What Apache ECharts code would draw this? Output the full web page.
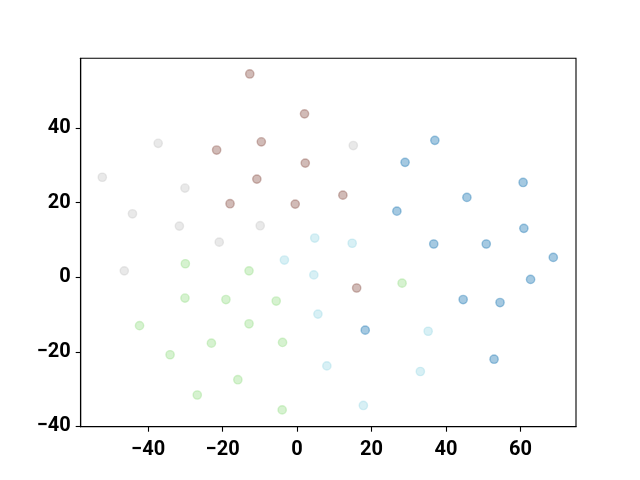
<!DOCTYPE html>
<html>
<head>
<meta charset="utf-8">
<script src="https://cdn.jsdelivr.net/npm/echarts@6/dist/echarts.min.js"></script>
<style>html,body{margin:0;padding:0;background:#fff;}#c{width:640px;height:480px;}</style>
</head>
<body>
<div id="c"></div>
<script>
const xTicks = [-40, -20, 0, 20, 40, 60];
const yTicks = [-40, -20, 0, 20, 40];

const blueX = [37.0, 29.0, 60.7, 45.6, 26.8, 60.9, 36.7, 50.8, 68.8, 62.7, 44.6, 54.5, 18.3, 52.9];
const blueY = [36.7, 30.8, 25.4, 21.4, 17.7, 13.1, 8.9, 8.9, 5.3, -0.6, -6.0, -6.8, -14.2, -22.0];

const brownX = [-12.7, 2.0, -9.6, -21.6, 2.2, -10.8, 12.3, -18.0, -0.5, 16.0];
const brownY = [54.5, 43.8, 36.3, 34.1, 30.6, 26.3, 22.0, 19.7, 19.6, -2.9];

const grayX = [-37.3, -52.3, -30.1, -44.2, -31.6, -9.9, -20.9, -46.4, 15.1];
const grayY = [35.9, 26.8, 23.9, 17.0, 13.7, 13.8, 9.4, 1.7, 35.3];

const cyanX = [4.75, 14.8, -3.4, 4.5, 5.6, 8.0, 35.2, 33.1, 17.8];
const cyanY = [10.5, 9.1, 4.6, 0.6, -9.9, -23.8, -14.5, -25.3, -34.4];

const greenX = [-30.0, -12.9, -30.1, -19.1, -5.6, -42.3, -12.9, -23.0, -3.9, -34.1, -15.9, -26.8, -4.0, 28.2];
const greenY = [3.6, 1.7, -5.6, -6.0, -6.4, -13.0, -12.5, -17.7, -17.5, -20.8, -27.5, -31.6, -35.6, -1.6];

function pts(xs, ys) { return xs.map((x, i) => [x, ys[i]]); }
function ser(xs, ys, color) {
  return {
    type: 'scatter',
    data: pts(xs, ys),
    symbol: 'circle',
    symbolSize: 8.3,
    itemStyle: { color: color, borderColor: color, borderWidth: 1.4, opacity: 0.4 },
    emphasis: { disabled: true },
    animation: false
  };
}
const fmt = v => String(v).replace('-', '\u2212');
const labelStyle = { fontFamily: 'Roboto', fontWeight: 'bold', fontSize: 20, color: '#000' };

const chart = echarts.init(document.getElementById('c'), null, { renderer: 'canvas' });
chart.setOption({
  animation: false,
  backgroundColor: '#fff',
  grid: { left: 80.7, top: 58.3, width: 495.3, height: 368.4, show: true, borderColor: '#000', borderWidth: 1.1, backgroundColor: 'transparent' },
  xAxis: {
    type: 'value', min: -58.1, max: 74.9,
    splitLine: { show: false },
    axisLine: { show: true, onZero: false, lineStyle: { color: '#000', width: 1.1 } },
    axisTick: { show: true, length: 5, lineStyle: { color: '#000', width: 1.1 }, customValues: xTicks },
    axisLabel: { ...labelStyle, margin: 13, formatter: fmt, customValues: xTicks }
  },
  yAxis: {
    type: 'value', min: -40.1, max: 58.7,
    splitLine: { show: false },
    axisLine: { show: true, onZero: false, lineStyle: { color: '#000', width: 1.1 } },
    axisTick: { show: true, length: 5, lineStyle: { color: '#000', width: 1.1 }, customValues: yTicks },
    axisLabel: { ...labelStyle, margin: 10, formatter: fmt, customValues: yTicks }
  },
  series: [
    ser(blueX, blueY, '#1f77b4'),
    ser(brownX, brownY, '#8c564b'),
    ser(grayX, grayY, '#c7c7c7'),
    ser(cyanX, cyanY, '#9edae5'),
    ser(greenX, greenY, '#98df8a')
  ]
});
</script>
</body>
</html>
